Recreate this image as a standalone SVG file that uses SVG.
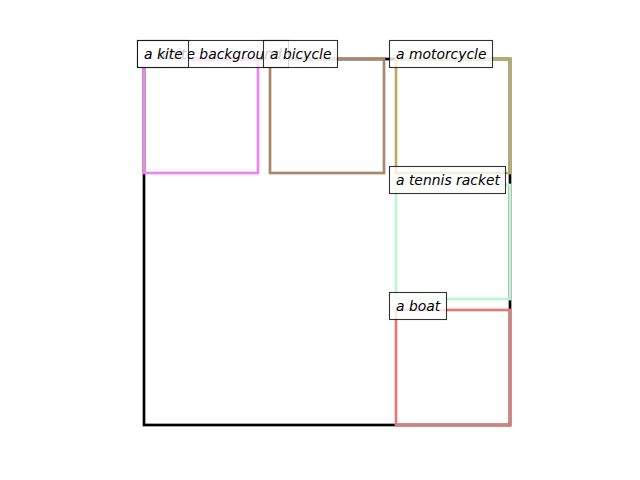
<svg xmlns="http://www.w3.org/2000/svg" width="640" height="480" viewBox="0 0 640 480">
<style>
.box{fill:none;stroke-width:2.7}
.lbl rect{fill:#fff;fill-opacity:0.8;stroke:#000;stroke-opacity:0.8;stroke-width:1.1}
.lbl text{font-family:"DejaVu Sans",sans-serif;font-style:oblique;font-size:13.9px;fill:#000}
</style>
<rect width="640" height="480" fill="#fff"/>
<g id="boxes">
<rect id="bg" class="box" x="144" y="59" width="366" height="366" stroke="#000"/>
<rect id="kite" class="box" x="144" y="59" width="114" height="114" stroke="#EE82EE"/>
<rect id="bicycle" class="box" x="270" y="59" width="114" height="114" stroke="#A9876A"/>
<rect id="motorcycle" class="box" x="396" y="59" width="114" height="114" stroke="#B5AE64"/>
<rect id="tennis" class="box" x="396" y="185" width="114" height="114" stroke="#BEF5D2"/>
<rect id="boat" class="box" x="396" y="310" width="114" height="115" stroke="#DC7D78"/>
</g>
<g id="label-bg" class="lbl"><rect x="137.5" y="40.5" width="151" height="27"/><text x="144" y="58.5">a white background</text></g>
<g id="label-kite" class="lbl"><rect x="137.5" y="40.5" width="51" height="27"/><text x="144" y="58.5">a kite</text></g>
<g id="label-bicycle" class="lbl"><rect x="263.5" y="40.5" width="74" height="27"/><text x="270" y="58.5">a bicycle</text></g>
<g id="label-motorcycle" class="lbl"><rect x="389.5" y="40.5" width="103" height="27"/><text x="396" y="58.5">a motorcycle</text></g>
<g id="label-tennis" class="lbl"><rect x="389.5" y="166.5" width="116" height="27"/><text x="396" y="184.5">a tennis racket</text></g>
<g id="label-boat" class="lbl"><rect x="389.5" y="292.5" width="57" height="27"/><text x="396" y="310.5">a boat</text></g>
</svg>
